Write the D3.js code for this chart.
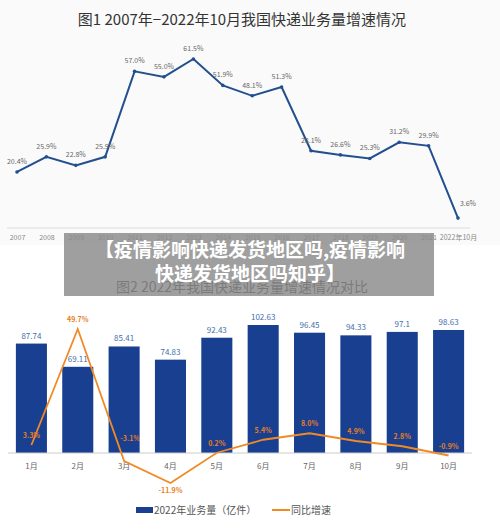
<!DOCTYPE html>
<html>
<head>
<script src="https://d3js.org/d3.v7.min.js"></script>
<style>body{margin:0;background:#fff;font-family:"Noto Sans CJK SC","Noto Sans",sans-serif}</style>
</head>
<body>
<div id="container"></div>
<script>
const years = ['2007','2008','2009','2010','2011','2012','2013','2014','2015','2016','2017','2018','2019','2020','2021','2022年10月'];
const growth = [20.4, 25.9, 22.8, 25.9, 57.0, 55.0, 61.5, 51.9, 48.1, 51.3, 28.1, 26.6, 25.3, 31.2, 29.9, 3.6];
const months = ['1月','2月','3月','4月','5月','6月','7月','8月','9月','10月'];
const volume = [87.74, 69.11, 85.41, 74.83, 92.43, 102.63, 96.45, 94.33, 97.1, 98.63];
const yoy = [3.3, 49.7, -3.1, -11.9, 0.2, 5.4, 8.0, 4.9, 2.8, -0.9];

const width = 500, height = 529;
const svg = d3.select("#container").append("svg").attr("width", width).attr("height", height);
const font = '"Noto Sans CJK SC", sans-serif';

// chart 1
svg.append("rect").attr("width", width).attr("height", 245).attr("fill", "#fafafa");
svg.append("text").attr("x", 242).attr("y", 25).attr("text-anchor", "middle")
  .attr("font-size", 15).attr("font-family", font).attr("fill", "#333").text("图1 2007年−2022年10月我国快递业务量增速情况");

const x1 = d3.scalePoint().domain(years).range([17, 458]);
const y1 = d3.scaleLinear().domain([0, 61.5]).range([228, 59]);

svg.append("line").attr("x1", 7).attr("x2", 470).attr("y1", 228).attr("y2", 228).attr("stroke", "#ddd");
svg.append("g").attr("transform", "translate(0,228)")
  .call(d3.axisBottom(x1).tickSize(0).tickPadding(7))
  .call(g => g.select(".domain").remove())
  .selectAll("text").attr("font-size", 7).attr("fill", "#888").attr("font-family", font);

svg.append("path").datum(growth).attr("fill", "none").attr("stroke", "#22508f").attr("stroke-width", 2)
  .attr("d", d3.line().x((d, i) => x1(years[i])).y(d => y1(d)));
svg.selectAll(".p1").data(growth).join("circle").attr("cx", (d, i) => x1(years[i])).attr("cy", d => y1(d))
  .attr("r", 1.8).attr("fill", "#22508f");
svg.selectAll(".l1").data(growth).join("text")
  .attr("x", (d, i) => x1(years[i]) + (i === years.length - 1 ? 10 : 0))
  .attr("y", (d, i) => y1(d) - (i === years.length - 1 ? 12 : 8))
  .attr("text-anchor", "middle").attr("font-size", 7).attr("fill", "#666").attr("font-family", font)
  .text(d => d.toFixed(1) + "%");

// chart 2
svg.append("text").attr("x", 242).attr("y", 292).attr("text-anchor", "middle")
  .attr("font-size", 14).attr("font-family", font).attr("fill", "#333").text("图2 2022年我国快递业务量增速情况对比");

const x2 = d3.scaleBand().domain(months).range([8, 472]).paddingInner(0.33).paddingOuter(0.17);
const yv = d3.scaleLinear().domain([0, 102.63]).range([453, 325]);
const yr = d3.scaleLinear().domain([-11.9, 49.7]).range([483, 329]);

svg.selectAll(".bar").data(volume).join("rect")
  .attr("x", (d, i) => x2(months[i])).attr("width", x2.bandwidth())
  .attr("y", d => yv(d)).attr("height", d => 453 - yv(d)).attr("fill", "#183f90");
svg.selectAll(".bl").data(volume).join("text")
  .attr("x", (d, i) => x2(months[i]) + x2.bandwidth() / 2).attr("y", d => yv(d) - 5)
  .attr("text-anchor", "middle").attr("font-size", 8).attr("fill", "#3f6fad").attr("font-family", font)
  .text(d => d);

svg.append("line").attr("x1", 8).attr("x2", 472).attr("y1", 453).attr("y2", 453).attr("stroke", "#ccc");
svg.append("g").attr("transform", "translate(0,453)")
  .call(d3.axisBottom(x2).tickSize(0).tickPadding(10))
  .call(g => g.select(".domain").remove())
  .selectAll("text").attr("font-size", 8).attr("fill", "#666").attr("font-family", font);

const cx = i => x2(months[i]) + x2.bandwidth() / 2;
svg.append("path").datum(yoy).attr("fill", "none").attr("stroke", "#f08a24").attr("stroke-width", 1.8)
  .attr("d", d3.line().x((d, i) => cx(i)).y(d => yr(d)));
svg.selectAll(".rl").data(yoy).join("text")
  .attr("x", (d, i) => cx(i) + (i === 2 ? 6 : 0))
  .attr("y", (d, i) => i === 3 ? yr(d) + 10 : (i === 2 ? yr(d) - 20 : yr(d) - 7))
  .attr("text-anchor", "middle").attr("font-size", 7).attr("font-weight", "bold").attr("fill", "#e67e22")
  .attr("font-family", font).text(d => d.toFixed(1) + "%");

// legend
svg.append("rect").attr("x", 136).attr("y", 507).attr("width", 17).attr("height", 6).attr("fill", "#183f90");
svg.append("text").attr("x", 154).attr("y", 514).attr("font-size", 10).attr("fill", "#555").attr("font-family", font).text("2022年业务量（亿件）");
svg.append("line").attr("x1", 272).attr("x2", 290).attr("y1", 510).attr("y2", 510).attr("stroke", "#f08a24").attr("stroke-width", 2);
svg.append("text").attr("x", 291).attr("y", 514).attr("font-size", 10).attr("fill", "#555").attr("font-family", font).text("同比增速");

// banner overlay
svg.append("rect").attr("x", 64).attr("y", 233).attr("width", 370).attr("height", 63).attr("fill", "#8a8a8a").attr("opacity", 0.82);
const banner = ["【疫情影响快递发货地区吗,疫情影响", "快递发货地区吗知乎】"];
svg.selectAll(".bn").data(banner).join("text")
  .attr("x", 250).attr("y", (d, i) => 257 + i * 24)
  .attr("text-anchor", "middle").attr("font-size", 19).attr("font-weight", "bold")
  .attr("fill", "#fff").attr("font-family", font).text(d => d);
</script>
</body>
</html>
